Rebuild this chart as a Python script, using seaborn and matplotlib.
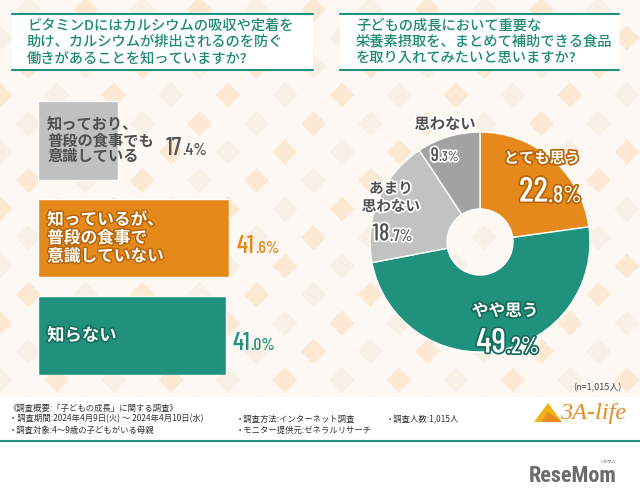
import matplotlib
matplotlib.use("Agg")
import matplotlib.pyplot as plt
import matplotlib.patheffects as pe
from matplotlib.patches import Polygon, Rectangle
import seaborn as sns
import pandas as pd

# ---------------- data ----------------
bar_labels = ["知っており、\n普段の食事でも\n意識している",
              "知っているが、\n普段の食事で\n意識していない",
              "知らない"]
bar_values = [17.4, 41.6, 41.0]
bar_colors = ["#c0c0c0", "#e5891a", "#1f917c"]

pie_labels = ["とても思う", "やや思う", "あまり\n思わない", "思わない"]
pie_values = [22.8, 49.2, 18.7, 9.3]
pie_colors = ["#e5891a", "#1f917c", "#c2c2c2", "#a3a3a3"]

title_left = "ビタミンDにはカルシウムの吸収や定着を\n助け、カルシウムが排出されるのを防ぐ\n働きがあることを知っていますか?"
title_right = "子どもの成長において重要な\n栄養素摂取を、まとめて補助できる食品\nを取り入れてみたいと思いますか?"
n_note = "(n=1,015人)"
footer_lines = [
    ("《調査概要:「子どもの成長」に関する調査》", 9, 408),
    ("・調査期間:2024年4月9日(火) ～ 2024年4月10日(水)", 9, 419),
    ("・調査対象:4～9歳の子どもがいる母親", 9, 430),
    ("・調査方法:インターネット調査", 236, 419),
    ("・モニター提供元:ゼネラルリサーチ", 236, 430),
    ("・調査人数:1,015人", 386, 419),
]

# ---------------- setup ----------------
sns.set_theme(style="white")
JP = ["Noto Sans CJK JP", "DejaVu Sans"]
NUM = ["Barlow Condensed", "DejaVu Sans"]
plt.rcParams["font.family"] = JP

W, H = 640, 499
fig = plt.figure(figsize=(W / 100, H / 100), dpi=100)
fig.patch.set_facecolor("white")

TEAL = "#1f917c"
TEAL_TXT = "#1d8a76"
ORANGE = "#e5891a"


def fx(x):
    return x / W


def fy(y):
    return 1 - y / H


# background axes in pixel coordinates
bg = fig.add_axes([0, 0, 1, 1], zorder=0)
bg.set_xlim(0, W)
bg.set_ylim(H, 0)
bg.axis("off")
bg.add_patch(Rectangle((0, 0), W, 397, color="#fdf8f3", lw=0))
# diamond pattern
s = 28.5
for i in range(-12, 14):
    for j in range(-4, 14):
        if (i + j) % 2:
            continue
        cx, cy = 285 + s * i, 95 + s * j
        if cx < -20 or cx > W + 20 or cy < -20 or cy > 410:
            continue
        col = "#fde8d4" if ((i + j) // 2) % 2 else "#f8efe6"
        r = 12.5
        pts = [(cx, cy - r), (cx + r, cy), (cx, cy + r), (cx - r, cy)]
        bg.add_patch(Polygon(pts, closed=True, color=col, lw=0))
# footer white area + line
bg.add_patch(Rectangle((0, 397), W, H - 397, color="white", lw=0))
bg.plot([0, W], [441, 441], color=TEAL, lw=1.5)

# title boxes
for (x0, x1, txt, tx) in [(12, 313, title_left, 27), (340, 619, title_right, 356)]:
    bg.add_patch(Rectangle((x0, 13), x1 - x0, 57, color="white", lw=0))
    bg.plot([x0, x1], [13.5, 13.5], color=TEAL, lw=1.5)
    bg.plot([x0, x1], [70, 70], color=TEAL, lw=1.5)
    bg.text(tx, 42, txt, ha="left", va="center", fontsize=10.3,
            color=TEAL_TXT, linespacing=1.2, fontweight="medium")

# ---------------- bar chart ----------------
df_bar = pd.DataFrame({"label": bar_labels, "value": bar_values})
axb = fig.add_axes([fx(38), fy(375), fx(275), (375 - 101) / H], zorder=2)
axb.patch.set_alpha(0)
sns.barplot(data=df_bar, y="label", x="value", hue="label",
            palette=bar_colors, orient="h", width=0.806, legend=False,
            ax=axb, saturation=1)
axb.set_xlim(0, 60)
axb.set_ylim(2.403, -0.403)
axb.axis("off")

inner_styles = [
    dict(color="#505050", path_effects=[], fontsize=11, linespacing=1.0),
    dict(color="white", path_effects=[pe.withStroke(linewidth=2.2, foreground="#b86508")],
         fontsize=12, linespacing=1.02),
    dict(color="white", path_effects=[pe.withStroke(linewidth=2.2, foreground="#146b5a")],
         fontsize=12.5, linespacing=1.0),
]
pct_x = [27.8, 43.4, 42.4]
pct_colors = ["#555555", ORANGE, TEAL]
for i, (lab, val) in enumerate(zip(bar_labels, bar_values)):
    axb.text(2.0, i, lab, ha="left", va="center", fontweight="bold",
             **inner_styles[i])
    ip, dp = f"{val:.1f}".split(".")
    t1 = axb.text(pct_x[i], i + 0.15, ip, ha="left", va="baseline",
                  fontsize=18, color=pct_colors[i], family=NUM, fontweight="medium")
    axb.annotate("." + dp + "%", xy=(1, 0), xycoords=t1,
                 xytext=(0.3, 1.3), textcoords="offset points",
                 ha="left", va="bottom", fontsize=12.5,
                 color=pct_colors[i], family=NUM, fontweight="medium")

# ---------------- donut chart ----------------
R = 110
axp = fig.add_axes([fx(480 - R), fy(242 + R), fx(2 * R), 2 * R / H], zorder=2)
axp.pie(pie_values, colors=pie_colors, startangle=90, counterclock=False,
        radius=1, wedgeprops=dict(width=0.7, edgecolor="white", linewidth=1))
axp.set_xlim(-1, 1)
axp.set_ylim(-1, 1)
axp.set_aspect("equal")
axp.axis("off")


def p2d(x, y):
    return (x - 480) / R, (242 - y) / R


pie_lab_pos = [(542, 158), (505, 311), (391, 197), (445, 124)]
pie_num_pos = [(547, 193), (505, 344), (389, 234), (443, 156)]
pie_lab_fs = [11, 12, 10.5, 11]
pie_num_fs = [(25, 17), (25, 17), (17.5, 12), (14, 10)]
pie_styles = [
    dict(color="white", path_effects=[pe.withStroke(linewidth=2.5, foreground="#b86508")]),
    dict(color="white", path_effects=[pe.withStroke(linewidth=2.5, foreground="#146b5a")]),
    dict(color="#505050", path_effects=[pe.withStroke(linewidth=2.5, foreground="white")]),
    dict(color="#505050", path_effects=[pe.withStroke(linewidth=2.5, foreground="white")]),
]
for i, (lab, val) in enumerate(zip(pie_labels, pie_values)):
    lx, ly = p2d(*pie_lab_pos[i])
    axp.text(lx, ly, lab, ha="center", va="center", fontsize=pie_lab_fs[i],
             fontweight="bold", linespacing=1.15, **pie_styles[i])
    ip, dp = f"{val:.1f}".split(".")
    nx, ny = p2d(*pie_num_pos[i])
    big, small = pie_num_fs[i]
    total = 0.45 * big * len(ip) + 1.25 * small
    off = -total / 2 + 0.45 * big * len(ip)
    t1 = axp.annotate(ip, xy=(nx, ny), xycoords="data", xytext=(off, 0),
                      textcoords="offset points", ha="right", va="center",
                      fontsize=big, family=NUM, fontweight="medium", **pie_styles[i])
    axp.annotate("." + dp + "%", xy=(1, 0), xycoords=t1,
                 xytext=(0.3, (big - small) * 0.2), textcoords="offset points",
                 ha="left", va="bottom", fontsize=small, family=NUM,
                 fontweight="medium", **pie_styles[i])

# ---------------- notes / footer ----------------
bg.text(622, 388, n_note, ha="right", va="center", fontsize=6.5, color="#444444")
for txt, x, y in footer_lines:
    bg.text(x, y, txt, ha="left", va="center", fontsize=6, color="#333333")

# 3A-life logo
tri = [(534, 422), (548, 403), (562, 422)]
bg.add_patch(Polygon(tri, closed=True, color="#f2b316", lw=0))
bg.add_patch(Polygon([(541, 422), (548, 412), (562, 422)], closed=True, color="#e88a1e", lw=0))
bg.text(560, 414, "3A-life", ha="left", va="center", fontsize=17.5,
        family=["Liberation Serif", "DejaVu Serif"], style="italic", color="#e88a1e")

# ResMom logo
bg.text(616, 476, "ReseMom", ha="right", va="center", fontsize=16,
        family=["Roboto Condensed", "DejaVu Sans"], fontweight="bold", color="#6b6b6b")
bg.text(607, 462, "リセマム", ha="center", va="center", fontsize=3, color="#6b6b6b")

fig.savefig("out.png", dpi=100, facecolor=fig.get_facecolor())
